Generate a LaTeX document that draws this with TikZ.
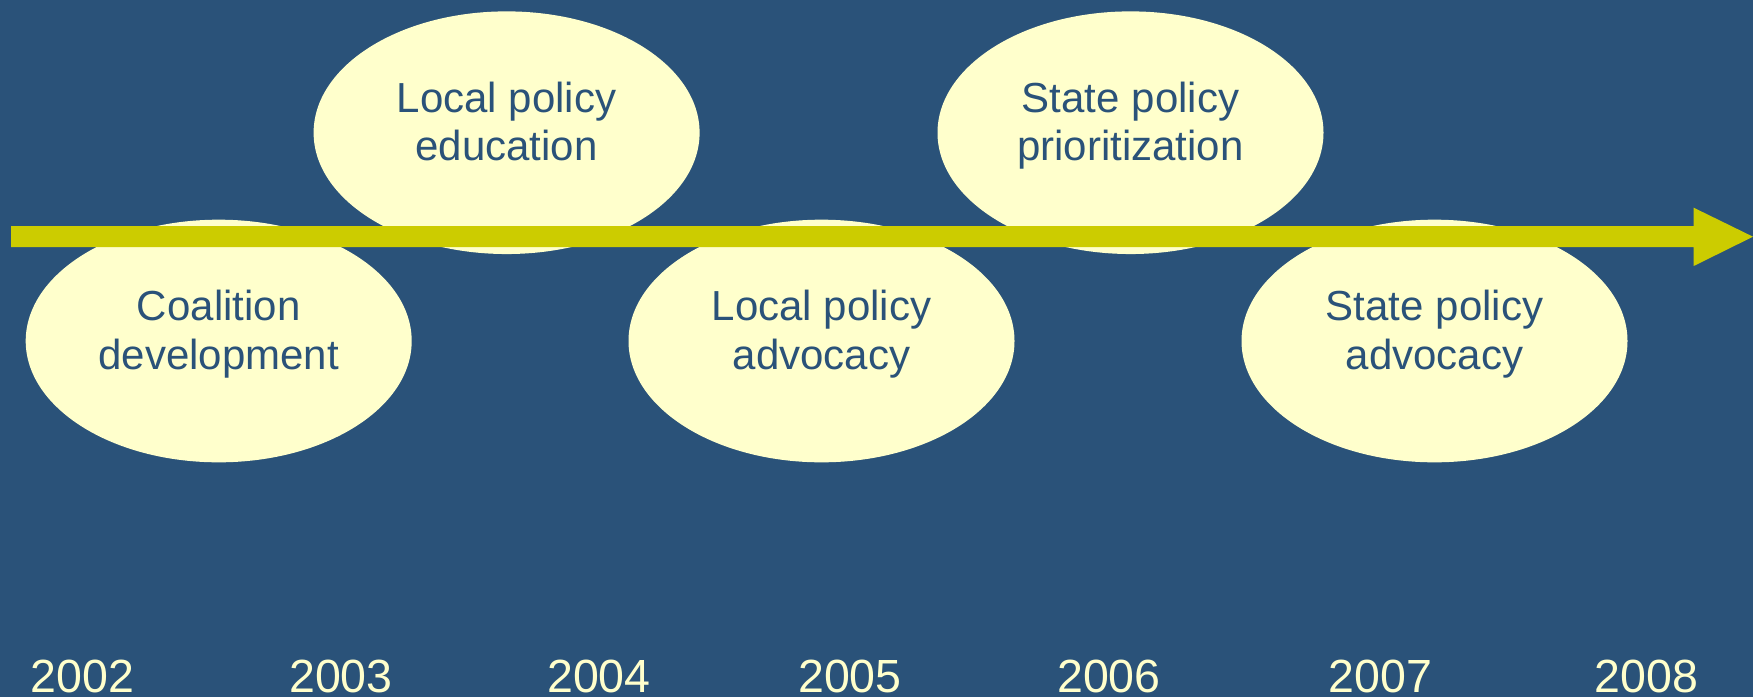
\documentclass[tikz,border=0pt]{standalone}
\usepackage{fontspec}
\setmainfont{Liberation Sans}
\usetikzlibrary{shapes.geometric}
\definecolor{slideblue}{HTML}{2A5279}
\definecolor{cream}{HTML}{FFFFCC}
\definecolor{olive}{HTML}{CCCC00}

\begin{document}
\begin{tikzpicture}[x=0.75pt,y=0.75pt,yscale=-1,xscale=1,
  bubble/.style={ellipse,fill=cream,inner sep=0pt,minimum width=289.5pt,minimum height=182pt},
  blurb/.style={anchor=north,align=center,inner sep=0pt,text=slideblue,font=\fontsize{31.5pt}{36.3pt}\selectfont},
  year/.style={anchor=base,inner sep=0pt,text=cream,font=\fontsize{34.9pt}{40pt}\selectfont}]
%set diagram left start at 0, and has height of 697
\fill[slideblue] (0,0) rectangle (1753,697);
\useasboundingbox (0,0) rectangle (1753,697);

%Ellipses
\node[bubble] (coal) at (218.7,341) {};
\node[bubble] (loced) at (506.6,132.7) {};
\node[bubble] (locadv) at (821.5,341) {};
\node[bubble] (stprio) at (1130.5,132.7) {};
\node[bubble] (stadv) at (1434.5,341) {};

%Timeline arrow
\coordinate (tstart) at (11,236.7);
\coordinate (tend) at (1753,236.7);
\fill[olive] (tstart) ++(0,-10.5) -- (1693.7,226.2) -- (1693.7,207.7) -- (tend) -- (1693.7,266) -- (1693.7,247.2) -- (11,247.2) -- cycle;

% Text Node
\node[blurb] (coaltext) at (218.7,290) {Coalition\\development};
% Text Node
\node[blurb] (locedtext) at (506.6,81.7) {Local policy\\education};
% Text Node
\node[blurb] (locadvtext) at (821.5,290) {Local policy\\advocacy};
% Text Node
\node[blurb] (stpriotext) at (1130.5,81.7) {State policy\\prioritization};
% Text Node
\node[blurb] (stadvtext) at (1434.5,290) {State policy\\advocacy};

% Years
\node[year] (y2002) at (82.3,692.7) {2002};
\node[year] (y2003) at (341,692.7) {2003};
\node[year] (y2004) at (599,692.7) {2004};
\node[year] (y2005) at (850,692.7) {2005};
\node[year] (y2006) at (1109,692.7) {2006};
\node[year] (y2007) at (1380.5,692.7) {2007};
\node[year] (y2008) at (1646.5,692.7) {2008};

\end{tikzpicture}
\end{document}
